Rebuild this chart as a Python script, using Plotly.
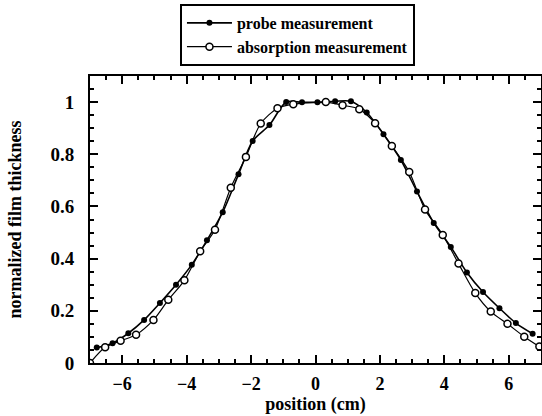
import plotly.graph_objects as go

probe_x = [-6.79, -6.30, -5.81, -5.32, -4.83, -4.33, -3.84, -3.37, -2.88, -2.39, -1.95, -1.43,
           -0.91, -0.42, 0.06, 0.61, 1.10, 1.59, 2.11, 2.65, 3.15, 3.67, 4.20, 4.70, 5.20, 5.71,
           6.22, 6.74]
probe_y = [0.059, 0.076, 0.114, 0.165, 0.23, 0.30, 0.377, 0.47, 0.578, 0.723, 0.851, 0.912,
           1.0, 0.999, 0.999, 1.003, 1.003, 0.96, 0.877, 0.778, 0.657, 0.537, 0.445, 0.347, 0.272,
           0.21, 0.153, 0.112]

absorb_x = [-7.0, -6.53, -6.05, -5.57, -5.03, -4.57, -4.07, -3.58, -3.12, -2.63, -2.16, -1.70,
            -1.18, -0.69, 0.32, 0.84, 1.36, 1.85, 2.37, 2.91, 3.40, 3.95, 4.44, 4.96, 5.44, 5.96,
            6.48, 6.95]
absorb_y = [0.0, 0.06, 0.085, 0.108, 0.165, 0.242, 0.317, 0.428, 0.511, 0.672, 0.79, 0.918,
            0.976, 0.992, 1.0, 0.988, 0.973, 0.919, 0.832, 0.732, 0.588, 0.491, 0.381, 0.268,
            0.197, 0.15, 0.101, 0.063]

x_ticks = [-6, -4, -2, 0, 2, 4, 6]
y_ticks = [0, 0.2, 0.4, 0.6, 0.8, 1]
y_tick_text = ["0", "0.2", "0.4", "0.6", "0.8", "1"]

FONT = "Liberation Serif"

fig = go.Figure()
fig.add_trace(go.Scatter(
    x=probe_x, y=probe_y, mode="lines+markers", name="<b>probe measurement</b>",
    line=dict(color="black", width=1.6, shape="spline", smoothing=0.8),
    marker=dict(symbol="circle", size=6, color="black"),
))
fig.add_trace(go.Scatter(
    x=absorb_x, y=absorb_y, mode="lines+markers", name="<b>absorption measurement</b>",
    line=dict(color="black", width=1.2, shape="spline", smoothing=0.8),
    marker=dict(symbol="circle", size=7, color="white", line=dict(color="black", width=1.5)),
))

axis_common = dict(
    showgrid=False, zeroline=False, showline=True, linecolor="black", linewidth=2,
    mirror="ticks", ticks="inside", ticklen=8, tickwidth=2, tickcolor="black",
    automargin=False,
)

fig.update_xaxes(
    range=[-7, 7], tickvals=x_ticks, ticklabelstandoff=3,
    tickfont=dict(family=FONT, size=18, color="black", weight="bold"),
    minor=dict(dtick=0.5, tick0=0, ticks="inside", ticklen=4, tickwidth=1.5, tickcolor="black"),
    title=dict(text="<b>position (cm)</b>", font=dict(family=FONT, size=18, color="black"), standoff=3),
    **axis_common,
)
fig.update_yaxes(
    range=[0, 1.1], tickvals=y_ticks, ticktext=y_tick_text, ticklabelstandoff=10,
    tickfont=dict(family=FONT, size=19, color="black", weight="bold"),
    minor=dict(dtick=0.05, tick0=0, ticks="inside", ticklen=4, tickwidth=1.5, tickcolor="black"),
    title=dict(text="<b>normalized film thickness</b>", font=dict(family=FONT, size=18, color="black"), standoff=24),
    **axis_common,
)

fig.update_layout(
    width=542, height=416,
    margin=dict(l=90, r=1, t=76, b=53, autoexpand=False),
    paper_bgcolor="white", plot_bgcolor="white",
    showlegend=True,
    legend=dict(
        x=0.46, xanchor="center", y=1.035, yanchor="bottom",
        bordercolor="black", borderwidth=2, bgcolor="white",
        font=dict(family=FONT, size=16, color="black"),
        tracegroupgap=0, itemwidth=45,
    ),
)

fig.write_html("out.html")
